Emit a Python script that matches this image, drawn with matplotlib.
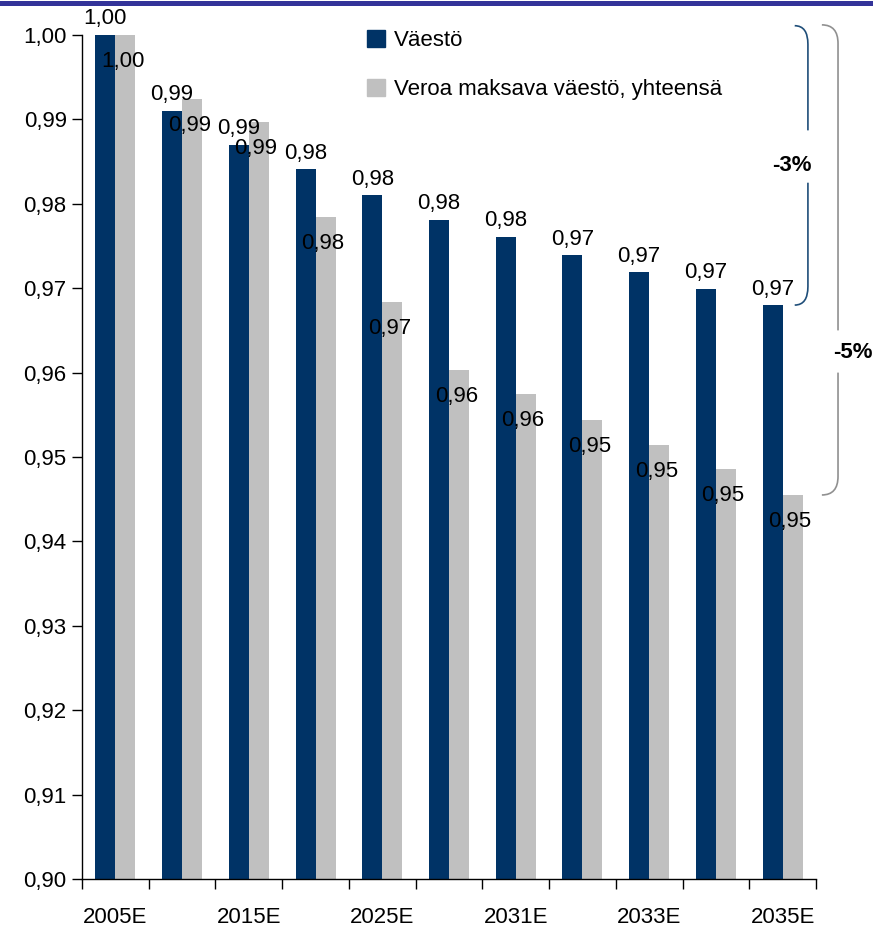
import numpy as np
import matplotlib
matplotlib.use('Agg')
import matplotlib.pyplot as plt
from matplotlib.patches import Patch, PathPatch
from matplotlib.path import Path
from matplotlib.lines import Line2D
import matplotlib.transforms as mtransforms

plt.rcParams['font.family'] = ['Liberation Sans', 'DejaVu Sans']

# data
years = ['2005E', '2010E', '2015E', '2020E', '2025E', '2030E',
         '2031E', '2032E', '2033E', '2034E', '2035E']
vaesto = [1.000, 0.991, 0.987, 0.9841, 0.9810, 0.9781,
          0.9761, 0.9739, 0.9719, 0.9699, 0.9680]
veroa = [1.000, 0.9924, 0.9897, 0.9784, 0.9684, 0.9603,
         0.9575, 0.9544, 0.9514, 0.9486, 0.9455]
names = ['Väestö', 'Veroa maksava väestö, yhteensä']

blue = '#003366'
grey = '#c0c0c0'
fs = 16

fig = plt.figure(figsize=(8.73, 9.31), dpi=100)
ax = fig.add_axes([82/873, 1-879/931, 734/873, 844/931])

x = np.arange(len(years))
w = 0.3
ax.bar(x - w/2, vaesto, w, color=blue)
ax.bar(x + w/2, veroa, w, color=grey)

def fmt(v):
    return ('%.2f' % v).replace('.', ',')

for i in x:
    ax.annotate(fmt(vaesto[i]), (i - w/2, vaesto[i]), xytext=(0, 4),
                textcoords='offset points', ha='center', va='bottom', fontsize=fs)
    ax.annotate(fmt(veroa[i]), (i + w/2, veroa[i]), xytext=(-2, -19),
                textcoords='offset points', ha='center', va='center', fontsize=fs)

ax.set_ylim(0.90, 1.00)
ax.set_xlim(-0.5, len(years) - 0.5)
ax.set_yticks(np.arange(0.90, 1.001, 0.01))
ax.set_yticklabels([fmt(v) for v in np.arange(0.90, 1.001, 0.01)], fontsize=fs)
ax.set_xticks(x[::2])
ax.set_xticklabels(years[::2], fontsize=fs)
ax.tick_params(axis='x', length=0, pad=20)
ax.set_xticks(np.arange(-0.5, len(years), 1), minor=True)
ax.tick_params(axis='x', which='minor', length=7, width=1, direction='out')
ax.tick_params(axis='y', length=7, width=1, direction='out', pad=4)
for s in ['top', 'right']:
    ax.spines[s].set_visible(False)
for s in ['left', 'bottom']:
    ax.spines[s].set_linewidth(1)

# braces on the right
tr = mtransforms.blended_transform_factory(ax.transAxes, ax.transData)

def brace(x0, x1, ytop, ybot, gtop, gbot, color):
    d = 0.0022
    verts = [(x0, ytop), (x1, ytop), (x1, ytop - d), (x1, gtop),
             (x1, gbot), (x1, ybot + d), (x1, ybot), (x0, ybot)]
    codes = [Path.MOVETO, Path.CURVE3, Path.CURVE3, Path.LINETO,
             Path.MOVETO, Path.LINETO, Path.CURVE3, Path.CURVE3]
    ax.add_patch(PathPatch(Path(verts, codes), fill=False, edgecolor=color,
                           lw=1.2, transform=tr, clip_on=False))

brace(0.971, 0.989, 1.0011, vaesto[-1], 0.9887, 0.9825, '#1f4e79')
brace(1.008, 1.030, 1.0012, veroa[-1], 0.9650, 0.9600, '#909090')
ax.text(0.967, 0.9845, '-3%', transform=tr, ha='center', va='center',
        fontsize=fs, fontweight='bold')
ax.text(1.050, 0.9624, '-5%', transform=tr, ha='center', va='center',
        fontsize=fs, fontweight='bold', clip_on=False)

handles = [Patch(color=blue), Patch(color=grey)]
fig.legend(handles, names, loc='upper left', bbox_to_anchor=(367/873, 1-30/931),
           frameon=False, fontsize=fs, handlelength=0.8, handleheight=0.8,
           handletextpad=0.4, labelspacing=1.25, borderpad=0, borderaxespad=0)

fig.add_artist(Line2D([0, 1], [1-2.5/931, 1-2.5/931], color='#333399', lw=3.6,
                      transform=fig.transFigure))

fig.savefig('out.png', dpi=100)
